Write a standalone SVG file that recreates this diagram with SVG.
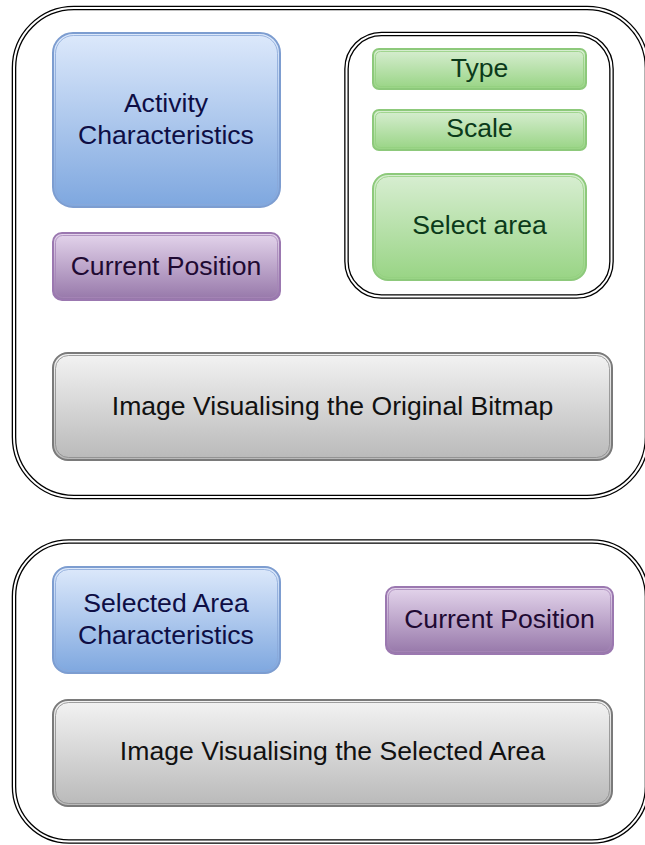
<svg xmlns="http://www.w3.org/2000/svg" width="645" height="845" viewBox="0 0 645 845">
  <style>
    text { font-family: "Liberation Sans", Arial, Helvetica, sans-serif; font-size: 26.6px; text-anchor: middle; }
    .frame-outer { fill: none; stroke: #000; stroke-width: 4.6; }
    .frame-inner { fill: none; stroke: #fff; stroke-width: 2; }
    .blue  { fill: url(#gBlue);   stroke: #7d9dd0; stroke-width: 2; }
    .purple{ fill: url(#gPurple); stroke: #9b78b0; stroke-width: 2; }
    .green { fill: url(#gGreen);  stroke: #8dc97b; stroke-width: 2; }
    .gray  { fill: url(#gGray);   stroke: #7a7a7a; stroke-width: 2; }
    .bevel { fill: none; stroke-width: 1; }
    .bevel.blue-b   { stroke: #8aa8d8; opacity: .8; }
    .bevel.purple-b { stroke: #a686b8; opacity: .8; }
    .bevel.green-b  { stroke: #93cf80; opacity: .8; }
    .bevel.gray-b   { stroke: #8a8a8a; opacity: .8; }
    .t-blue   { fill: #0e0e45; }
    .t-purple { fill: #1f0a33; }
    .t-green  { fill: #0b3a1a; }
    .t-gray   { fill: #111; }
  </style>
  <defs>
    <linearGradient id="gBlue" x1="0" y1="0" x2="0" y2="1">
      <stop offset="0" stop-color="#dde9fb"/>
      <stop offset="1" stop-color="#7ea7df"/>
    </linearGradient>
    <linearGradient id="gPurple" x1="0" y1="0" x2="0" y2="1">
      <stop offset="0" stop-color="#e4d5ec"/>
      <stop offset="1" stop-color="#9677a9"/>
    </linearGradient>
    <linearGradient id="gGreen" x1="0" y1="0" x2="0" y2="1">
      <stop offset="0" stop-color="#d8eed2"/>
      <stop offset="1" stop-color="#98d484"/>
    </linearGradient>
    <linearGradient id="gGray" x1="0" y1="0" x2="0" y2="1">
      <stop offset="0" stop-color="#f3f3f3"/>
      <stop offset="1" stop-color="#b9b9b9"/>
    </linearGradient>
  </defs>

  <!-- main window frame -->
  <g id="mainFrame">
    <rect class="frame-outer" x="14" y="8" width="633" height="489" rx="60"/>
    <rect class="frame-inner" x="14" y="8" width="633" height="489" rx="60"/>
  </g>

  <!-- tool panel frame -->
  <g id="toolFrame">
    <rect class="frame-outer" x="346.5" y="34" width="265" height="262.5" rx="35"/>
    <rect class="frame-inner" x="346.5" y="34" width="265" height="262.5" rx="35"/>
  </g>

  <!-- detail window frame -->
  <g id="detailFrame">
    <rect class="frame-outer" x="14" y="541.5" width="633" height="300" rx="55"/>
    <rect class="frame-inner" x="14" y="541.5" width="633" height="300" rx="55"/>
  </g>

  <g id="activityCharacteristics">
    <rect class="blue" x="53" y="33" width="227" height="174" rx="20"/>
    <rect class="bevel blue-b" x="55.5" y="35.5" width="222" height="169" rx="18"/>
    <text class="t-blue" x="166" y="112">Activity</text>
    <text class="t-blue" x="166" y="144">Characteristics</text>
  </g>

  <g id="currentPosition1">
    <rect class="purple" x="53" y="233" width="227" height="67" rx="9"/>
    <rect class="bevel purple-b" x="55.5" y="235.5" width="222" height="62" rx="7"/>
    <text class="t-purple" x="166" y="275">Current Position</text>
  </g>

  <g id="type">
    <rect class="green" x="373" y="49" width="213" height="40" rx="6"/>
    <rect class="bevel green-b" x="375.5" y="51.5" width="208" height="35" rx="5"/>
    <text class="t-green" x="479.5" y="77">Type</text>
  </g>

  <g id="scale">
    <rect class="green" x="373" y="110" width="213" height="40" rx="6"/>
    <rect class="bevel green-b" x="375.5" y="112.5" width="208" height="35" rx="5"/>
    <text class="t-green" x="479.5" y="137">Scale</text>
  </g>

  <g id="selectArea">
    <rect class="green" x="373" y="174" width="213" height="106" rx="15"/>
    <rect class="bevel green-b" x="375.5" y="176.5" width="208" height="101" rx="13"/>
    <text class="t-green" x="479.5" y="234">Select area</text>
  </g>

  <g id="originalBitmap">
    <rect class="gray" x="53" y="353" width="559" height="107" rx="15"/>
    <rect class="bevel gray-b" x="55.5" y="355.5" width="554" height="102" rx="13"/>
    <text class="t-gray" x="332.5" y="415">Image Visualising the Original Bitmap</text>
  </g>

  <g id="selectedAreaCharacteristics">
    <rect class="blue" x="53" y="567" width="227" height="106" rx="15"/>
    <rect class="bevel blue-b" x="55.5" y="569.5" width="222" height="101" rx="13"/>
    <text class="t-blue" x="166" y="612">Selected Area</text>
    <text class="t-blue" x="166" y="644">Characteristics</text>
  </g>

  <g id="currentPosition2">
    <rect class="purple" x="386" y="587" width="227" height="67" rx="9"/>
    <rect class="bevel purple-b" x="388.5" y="589.5" width="222" height="62" rx="7"/>
    <text class="t-purple" x="499.5" y="628">Current Position</text>
  </g>

  <g id="selectedAreaImage">
    <rect class="gray" x="53" y="700" width="559" height="106" rx="15"/>
    <rect class="bevel gray-b" x="55.5" y="702.5" width="554" height="101" rx="13"/>
    <text class="t-gray" x="332.5" y="760">Image Visualising the Selected Area</text>
  </g>

  <!-- no connectors in this layout -->
  <g id="connectors"/>
</svg>
